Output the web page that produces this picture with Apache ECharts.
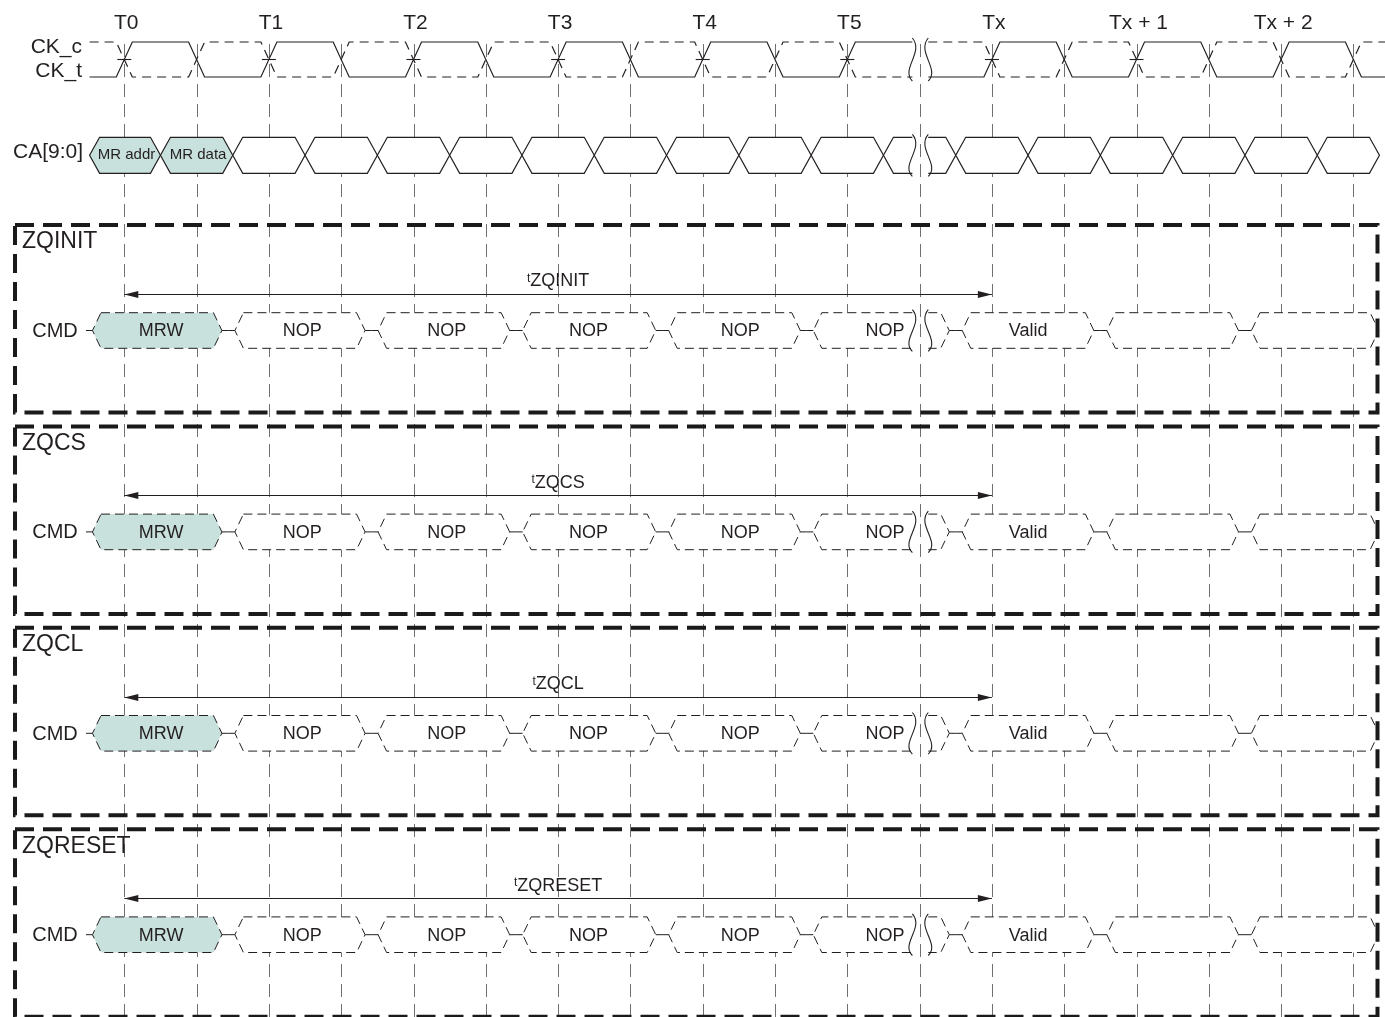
<!DOCTYPE html>
<html><head><meta charset="utf-8">
<script src="https://cdn.jsdelivr.net/npm/echarts@6/dist/echarts.min.js"></script>
<style>html,body{margin:0;padding:0;background:#fff}#c{width:1385px;height:1017px}</style>
</head><body><div id="c"></div>
<script>
// ---------------- data (times in clock periods, T0 = 0) ----------------
const tickLabels = ['T0','T1','T2','T3','T4','T5','Tx','Tx + 1','Tx + 2'];
const tickTimes = [0,1,2,3,4,5,6,7,8];
const refLineTimes = [0,0.5,1,1.5,2,2.5,3,3.5,4,4.5,5,5.5,6,6.5,7,7.5,8,8.5];
const ckEdgesBefore = [0,0.5,1,1.5,2,2.5,3,3.5,4,4.5,5];
const ckEdgesAfter = [6,6.5,7,7.5,8,8.5];
const ckMarkedEdges = [0,1,2,3,4,5,6,7];
const ckStart = -0.24, ckEnd = 8.72;
const breakTimes = [5.45, 5.56];
const caCrossBefore = [-0.24,0.25,0.75,1.25,1.75,2.25,2.75,3.25,3.75,4.25,4.75,5.25];
const caCrossAfter = [5.75,6.25,6.75,7.25,7.75,8.25,8.68];
const caLabels = ['MR addr','MR data'];
const caLabelTimes = [0.015,0.51];
const cmdCrossBefore = [-0.265,0.72,1.71,2.71,3.72,4.72];
const cmdCrossAfter = [5.75,6.75,7.75,8.72];
const cmdLabels = ['MRW','NOP','NOP','NOP','NOP','NOP','','Valid','',''];
const cmdLabelTimes = [0.255,1.23,2.23,3.21,4.26,5.26,null,6.25,null,null];
const cmdHighlighted = ['MRW'];
const groupNames = ['ZQINIT','ZQCS','ZQCL','ZQRESET'];
const timingParams = ['ZQINIT','ZQCS','ZQCL','ZQRESET'];
const timingFrom = [0,0,0,0];
const timingTo = [6,6,6,6];
const signalNames = ['CK_c','CK_t','CA[9:0]','CMD'];

// ---------------- layout / style ----------------
const X_MIN = -0.8596, X_MAX = 8.7185;
const L = {
  tickY: 23,
  ckHigh: 42, ckLow: 77, ckMid: 59.5, ckHalf: 8,
  ckcY: 47, cktY: 71, sigLabelX: 82,
  caTop: 137.3, caBot: 173.3, caLabelY: 152,
  refTop: 44, refBot: 1017,
  rowMid0: 330.5, rowStep: 201.4, rowHalf: 17.8,
  boxUp: 105.5, boxDown: 82, boxLeft: 15, boxRight: 1377.5,
  arrowUp: 36.5, paramUp: 49, titleDown: 17,
  cmdLabelX: 55
};
const LINE = '#231f20', TXT = '#231f20', GRID = '#707070', TEAL = '#c9e1dd';
const FONT = '"Liberation Sans", Arial, Helvetica, sans-serif';
const font = sz => sz + 'px ' + FONT;

function buildSegs(before, after, brk) {
  const segs = [];
  for (let i = 0; i < before.length - 1; i++) segs.push({a: before[i], b: before[i+1], at: 'pt', bt: 'pt'});
  segs.push({a: before[before.length-1], b: brk[0], at: 'pt', bt: 'brk'});
  segs.push({a: brk[1], b: after[0], at: 'brk', bt: 'pt'});
  for (let i = 0; i < after.length - 1; i++) segs.push({a: after[i], b: after[i+1], at: 'pt', bt: 'pt'});
  return segs;
}
const caSegs = buildSegs(caCrossBefore, caCrossAfter, breakTimes);
caLabels.forEach((l, i) => { caSegs[i].label = l; caSegs[i].lt = caLabelTimes[i]; });
const cmdSegs = buildSegs(cmdCrossBefore, cmdCrossAfter, breakTimes);
cmdSegs.forEach((s, i) => { s.label = cmdLabels[i]; s.lt = cmdLabelTimes[i]; s.hl = cmdHighlighted.indexOf(cmdLabels[i]) >= 0; });

const P = (api, t, y, dx) => { const c = api.coord([t, y]); return [c[0] + (dx || 0), c[1]]; };
const crisp = v => Math.round(v) + 0.5;

function hexPts(ax, bx, at, bt, top, bot, p, w) {
  const mid = (top + bot) / 2;
  const Lx = at === 'pt' ? ax + p : ax, Rx = bt === 'pt' ? bx - p : bx;
  const lt = [at === 'pt' ? Lx + w : Lx, top], lb = [at === 'pt' ? Lx + w : Lx, bot];
  const rt = [bt === 'pt' ? Rx - w : Rx, top], rb = [bt === 'pt' ? Rx - w : Rx, bot];
  const lm = [Lx, mid], rm = [Rx, mid];
  const fill = [lt, rt].concat(bt === 'pt' ? [rm] : []).concat([rb, lb]).concat(at === 'pt' ? [lm] : []);
  let outline, closed = false;
  if (at === 'pt' && bt === 'pt') { outline = fill; closed = true; }
  else if (at === 'brk') outline = [lt, rt, rm, rb, lb];
  else outline = [rt, lt, lm, lb, rb];
  return {fill, outline, closed};
}
function sCurve(x, top, bot, dir) {
  const h = bot - top;
  return {type: 'bezierCurve', shape: {x1: x, y1: top, cpx1: x + 12*dir, cpy1: top + h*0.33, cpx2: x - 12*dir, cpy2: top + h*0.72, x2: x, y2: bot},
    style: {fill: null, stroke: LINE, lineWidth: 1.1}};
}

const chart = echarts.init(document.getElementById('c'));
const series = [];

// vertical reference lines
series.push({
  type: 'custom', z: 1, silent: true, clip: false,
  data: refLineTimes.map(t => [t, 0]),
  renderItem: (params, api) => {
    const t = api.value(0);
    const x = crisp(P(api, t, 0)[0]);
    return {type: 'line', shape: {x1: x, y1: P(api, t, L.refTop)[1], x2: x, y2: P(api, t, L.refBot)[1]},
      style: {stroke: GRID, lineWidth: 1, lineDash: [13, 7]}};
  }
});

// clock
series.push({
  type: 'custom', z: 3, silent: true, clip: false,
  data: [[0, 0]],
  renderItem: (params, api) => {
    const ch = [];
    const seq = (edges, t0, t1, startHigh) => {
      const pts = []; let hi = startHigh;
      const lv = () => hi ? L.ckHigh : L.ckLow;
      pts.push(P(api, t0, lv()));
      edges.forEach(e => { pts.push(P(api, e, lv(), -L.ckHalf)); hi = !hi; pts.push(P(api, e, lv(), L.ckHalf)); });
      pts.push(P(api, t1, lv()));
      return pts;
    };
    [[ckEdgesBefore, ckStart, breakTimes[0]], [ckEdgesAfter, breakTimes[1], ckEnd]].forEach(([ed, a, b]) => {
      ch.push({type: 'polyline', shape: {points: seq(ed, a, b, false)}, style: {fill: null, stroke: LINE, lineWidth: 1.2}});
      ch.push({type: 'polyline', shape: {points: seq(ed, a, b, true)}, style: {fill: null, stroke: LINE, lineWidth: 1.2, lineDash: [9, 6]}});
    });
    ckMarkedEdges.forEach(e => {
      const a = P(api, e, L.ckMid, -7), b = P(api, e, L.ckMid, 7);
      ch.push({type: 'line', shape: {x1: a[0], y1: a[1], x2: b[0], y2: b[1]}, style: {stroke: LINE, lineWidth: 1.1}});
    });
    return {type: 'group', children: ch};
  }
});

// CA bus
series.push({
  type: 'custom', z: 4, silent: true, clip: false,
  data: caSegs.map(s => [s.a, 0]),
  renderItem: (params, api) => {
    const s = caSegs[params.dataIndex];
    const ax = P(api, s.a, 0)[0], bx = P(api, s.b, 0)[0];
    const top = P(api, 0, L.caTop)[1], bot = P(api, 0, L.caBot)[1];
    const h = hexPts(ax, bx, s.at, s.bt, top, bot, 0, 10);
    const ch = [
      {type: 'polygon', shape: {points: h.fill}, style: {fill: s.label ? TEAL : '#fff', stroke: null}},
      {type: h.closed ? 'polygon' : 'polyline', shape: {points: h.outline}, style: {fill: null, stroke: LINE, lineWidth: 1.2}}
    ];
    if (s.label) ch.push({type: 'text', style: {text: s.label, x: P(api, s.lt, 0)[0], y: (top + bot) / 2, align: 'center', verticalAlign: 'middle', font: font(15), fill: TXT}});
    return {type: 'group', children: ch};
  }
});

// CMD rows
const cmdData = [];
groupNames.forEach((g, gi) => cmdSegs.forEach(s => cmdData.push([s.a, gi])));
series.push({
  type: 'custom', z: 4, silent: true, clip: false,
  data: cmdData,
  renderItem: (params, api) => {
    const n = cmdSegs.length;
    const gi = Math.floor(params.dataIndex / n), i = params.dataIndex % n;
    const s = cmdSegs[i];
    const midV = L.rowMid0 + gi * L.rowStep;
    const top = P(api, 0, midV - L.rowHalf)[1], bot = P(api, 0, midV + L.rowHalf)[1], mid = P(api, 0, midV)[1];
    const ax = P(api, s.a, 0)[0], bx = P(api, s.b, 0)[0];
    const pg = 6.5;
    const h = hexPts(ax, bx, s.at, s.bt, top, bot, pg, 8.5);
    const ch = [
      {type: 'polygon', shape: {points: h.fill}, style: {fill: s.hl ? TEAL : '#fff', stroke: null}},
      {type: h.closed ? 'polygon' : 'polyline', shape: {points: h.outline}, style: {fill: null, stroke: LINE, lineWidth: 1, lineDash: [9, 5]}}
    ];
    if (s.at === 'pt') ch.push({type: 'line', shape: {x1: ax, y1: mid, x2: ax + pg, y2: mid}, style: {stroke: LINE, lineWidth: 1}});
    if (s.bt === 'pt' && i < n - 1) ch.push({type: 'line', shape: {x1: bx - pg, y1: mid, x2: bx, y2: mid}, style: {stroke: LINE, lineWidth: 1}});
    if (s.label) ch.push({type: 'text', style: {text: s.label, x: P(api, s.lt, 0)[0], y: mid + 1, align: 'center', verticalAlign: 'middle', font: font(18), fill: TXT}});
    return {type: 'group', children: ch};
  }
});

// break symbols
const breakRows = [[L.ckHigh - 4, L.ckLow + 4], [L.caTop - 3, L.caBot + 3]];
groupNames.forEach((g, gi) => { const m = L.rowMid0 + gi * L.rowStep; breakRows.push([m - L.rowHalf - 3, m + L.rowHalf + 3]); });
series.push({
  type: 'custom', z: 5, silent: true, clip: false,
  data: breakRows.map((r, i) => [breakTimes[0], i]),
  renderItem: (params, api) => {
    const r = breakRows[params.dataIndex];
    const x0 = P(api, breakTimes[0], 0)[0], x1 = P(api, breakTimes[1], 0)[0];
    const t = P(api, 0, r[0])[1], b = P(api, 0, r[1])[1];
    return {type: 'group', children: [sCurve(x0, t, b, 1), sCurve(x1, t, b, -1)]};
  }
});

// group boxes & titles
series.push({
  type: 'custom', z: 6, silent: true, clip: false,
  data: groupNames.map((n, i) => [X_MIN, i]),
  renderItem: (params, api) => {
    const i = params.dataIndex;
    const mid = L.rowMid0 + i * L.rowStep;
    const ox = P(api, X_MIN, 0)[0];
    const y0 = P(api, X_MIN, mid - L.boxUp)[1], y1 = P(api, X_MIN, mid + L.boxDown)[1];
    const x0 = ox + L.boxLeft, x1 = ox + L.boxRight;
    return {type: 'group', children: [
      {type: 'rect', shape: {x: x0, y: y0, width: x1 - x0, height: y1 - y0}, style: {fill: null, stroke: '#1a1a1a', lineWidth: 4, lineDash: [19, 9]}},
      {type: 'text', style: {text: groupNames[i], x: x0 + 7, y: y0 + L.titleDown, align: 'left', verticalAlign: 'middle', font: font(23), fill: TXT}},
      {type: 'text', style: {text: signalNames[3], x: P(api, X_MIN, 0)[0] + L.cmdLabelX, y: P(api, 0, mid)[1] + 1, align: 'center', verticalAlign: 'middle', font: font(20), fill: TXT}}
    ]};
  }
});

// timing arrows and parameter labels
series.push({
  type: 'custom', z: 5, silent: true, clip: false,
  data: timingParams.map((p, i) => [timingFrom[i], i]),
  renderItem: (params, api) => {
    const i = params.dataIndex;
    const mid = L.rowMid0 + i * L.rowStep;
    const a = P(api, timingFrom[i], mid - L.arrowUp), b = P(api, timingTo[i], mid - L.arrowUp);
    const y = crisp(a[1]);
    const c = P(api, (timingFrom[i] + timingTo[i]) / 2, mid - L.paramUp);
    return {type: 'group', children: [
      {type: 'line', shape: {x1: a[0], y1: y, x2: b[0], y2: y}, style: {stroke: LINE, lineWidth: 1.2}},
      {type: 'polygon', shape: {points: [[a[0], y], [a[0] + 14, y - 3.5], [a[0] + 14, y + 3.5]]}, style: {fill: LINE}},
      {type: 'polygon', shape: {points: [[b[0], y], [b[0] - 14, y - 3.5], [b[0] - 14, y + 3.5]]}, style: {fill: LINE}},
      {type: 'text', style: {text: '{s|t}{m|' + timingParams[i] + '}', x: c[0], y: c[1], align: 'center', verticalAlign: 'middle',
        rich: {s: {fontSize: 12, fontFamily: FONT, fill: TXT, verticalAlign: 'top'}, m: {fontSize: 18, fontFamily: FONT, fill: TXT}}}}
    ]};
  }
});

// tick labels and signal names
series.push({
  type: 'custom', z: 7, silent: true, clip: false,
  data: tickTimes.map(t => [t, 0]),
  renderItem: (params, api) => {
    const t = api.value(0);
    const p = P(api, t, L.tickY, 2);
    const ch = [{type: 'text', style: {text: tickLabels[params.dataIndex], x: p[0], y: p[1], align: 'center', verticalAlign: 'middle', font: font(21), fill: TXT}}];
    if (params.dataIndex === 0) {
      const ox = P(api, X_MIN, 0)[0] + L.sigLabelX;
      ch.push({type: 'text', style: {text: signalNames[0], x: ox, y: P(api, 0, L.ckcY)[1], align: 'right', verticalAlign: 'middle', font: font(21), fill: TXT}});
      ch.push({type: 'text', style: {text: signalNames[1], x: ox, y: P(api, 0, L.cktY)[1], align: 'right', verticalAlign: 'middle', font: font(21), fill: TXT}});
      ch.push({type: 'text', style: {text: signalNames[2], x: ox + 1, y: P(api, 0, L.caLabelY)[1], align: 'right', verticalAlign: 'middle', font: font(21), fill: TXT}});
    }
    return {type: 'group', children: ch};
  }
});

chart.setOption({
  animation: false,
  grid: {left: 0, right: 0, top: 0, bottom: 0},
  xAxis: {type: 'value', min: X_MIN, max: X_MAX, show: false},
  yAxis: {type: 'value', min: 0, max: 1017, inverse: true, show: false},
  series: series
});
</script></body></html>
